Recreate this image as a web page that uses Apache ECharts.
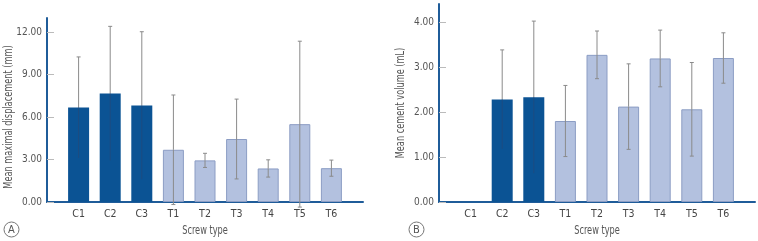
<!DOCTYPE html>
<html><head><meta charset="utf-8">
<script src="https://cdn.jsdelivr.net/npm/echarts@6/dist/echarts.min.js"></script>
<style>html,body{margin:0;padding:0;background:#fff}#c{width:758px;height:241px}</style>
</head><body><div id="c"></div>
<script>
const categories = ['C1','C2','C3','T1','T2','T3','T4','T5','T6'];
const dispMean = [6.68, 7.67, 6.82, 3.69, 2.94, 4.45, 2.37, 5.50, 2.39];
const dispSD   = [3.57, 4.74, 5.21, 3.87, 0.50, 2.82, 0.61, 5.86, 0.57];
const volMean  = [null, 2.28, 2.33, 1.80, 3.27, 2.12, 3.19, 2.06, 3.20];
const volSD    = [null, 1.10, 1.69, 0.79, 0.53, 0.95, 0.63, 1.04, 0.56];
const dispTicks = [0, 3, 6, 9, 12];
const volTicks = [0, 1, 2, 3, 4];

const FONT = '"DejaVu Sans Condensed","Liberation Sans Narrow",sans-serif';
const DARK = '#0b5394', LIGHT = '#b3c1df', LIGHT_BORDER = '#8c9dc4', AXIS = '#1f5c99';
const xData = [''].concat(categories, ['']);

function barData(vals) {
  return [null].concat(vals.map((v, i) => v == null ? null : {
    value: v,
    itemStyle: categories[i][0] === 'C'
      ? { color: DARK, borderColor: DARK, borderWidth: 0 }
      : { color: LIGHT, borderColor: LIGHT_BORDER, borderWidth: 1 }
  }), [null]);
}
function errData(means, sds) {
  const out = [];
  means.forEach((m, i) => { if (m != null) out.push([i + 1, m - sds[i], m + sds[i], categories[i][0] === 'C' ? 1 : 0]); });
  return out;
}
function renderErr(params, api) {
  const x = api.value(0), lo = api.value(1), hi = api.value(2), dark = api.value(3);
  const mean = (lo + hi) / 2;
  const pLo = api.coord([x, lo]), pHi = api.coord([x, hi]), pM = api.coord([x, mean]);
  const cap = 2;
  const grey = { stroke: '#8a8a8a', lineWidth: 1 };
  const children = [
    { type: 'line', shape: { x1: pHi[0], y1: pHi[1], x2: pM[0], y2: pM[1] }, style: grey },
    { type: 'line', shape: { x1: pM[0], y1: pM[1], x2: pLo[0], y2: pLo[1] }, style: dark ? { stroke: '#1d4c80', lineWidth: 1 } : grey },
    { type: 'line', shape: { x1: pHi[0] - cap, y1: pHi[1], x2: pHi[0] + cap, y2: pHi[1] }, style: grey }
  ];
  if (!dark) children.push({ type: 'line', shape: { x1: pLo[0] - cap, y1: pLo[1], x2: pLo[0] + cap, y2: pLo[1] }, style: grey });
  return { type: 'group', children };
}

function xAxis(gi) {
  return {
    type: 'category', gridIndex: gi, data: xData, boundaryGap: false,
    axisLine: { lineStyle: { color: AXIS, width: 2 } },
    axisTick: { show: false },
    axisLabel: { color: '#444', fontFamily: FONT, fontSize: 10.5, margin: 7, interval: 0 },
    splitLine: { show: false }
  };
}
function yAxis(gi, max, ticks) {
  return {
    type: 'value', gridIndex: gi, min: 0, max: max,
    axisLine: { show: true, lineStyle: { color: AXIS, width: 2 } },
    axisTick: { show: true, inside: true, length: 7, customValues: ticks, lineStyle: { color: '#bbbbbb', width: 1 } },
    axisLabel: { customValues: ticks, color: '#555', fontFamily: FONT, fontSize: 10, margin: 5, formatter: v => v.toFixed(2) },
    splitLine: { show: false }
  };
}
function title(text, x, y, rot) {
  return { type: 'text', x: x, y: y, rotation: rot, scaleX: 0.76,
    style: { text: text, fill: '#555', font: '12px ' + FONT, textAlign: 'center', textVerticalAlign: 'middle' } };
}

const chart = echarts.init(document.getElementById('c'), null, { renderer: 'canvas' });
chart.setOption({
  animation: false,
  backgroundColor: '#fff',
  grid: [
    { left: 47, top: 18, width: 316, height: 184 },
    { left: 439, top: 4, width: 317, height: 198 }
  ],
  xAxis: [xAxis(0), xAxis(1)],
  yAxis: [yAxis(0, 13, dispTicks), yAxis(1, 4.4, volTicks)],
  series: [
    { type: 'bar', xAxisIndex: 0, yAxisIndex: 0, barWidth: 21, data: barData(dispMean), z: 2 },
    { type: 'custom', xAxisIndex: 0, yAxisIndex: 0, renderItem: renderErr, data: errData(dispMean, dispSD), z: 3 },
    { type: 'bar', xAxisIndex: 1, yAxisIndex: 1, barWidth: 21, data: barData(volMean), z: 2 },
    { type: 'custom', xAxisIndex: 1, yAxisIndex: 1, renderItem: renderErr, data: errData(volMean, volSD), z: 3 }
  ],
  graphic: [
    title('Mean maximal displacement (mm)', 9, 117, Math.PI / 2),
    title('Mean cement volume (mL)', 401, 103, Math.PI / 2),
    title('Screw type', 205, 231, 0),
    title('Screw type', 597, 231, 0),
    { type: 'circle', shape: { cx: 11.5, cy: 229.5, r: 7.5 }, style: { fill: '#fff', stroke: '#777', lineWidth: 1 } },
    { type: 'text', x: 11.5, y: 230, style: { text: 'A', fill: '#555', font: '11px ' + FONT, textAlign: 'center', textVerticalAlign: 'middle' } },
    { type: 'circle', shape: { cx: 416.5, cy: 229.5, r: 7.5 }, style: { fill: '#fff', stroke: '#777', lineWidth: 1 } },
    { type: 'text', x: 416.5, y: 230, style: { text: 'B', fill: '#555', font: '11px ' + FONT, textAlign: 'center', textVerticalAlign: 'middle' } }
  ]
});
</script></body></html>
